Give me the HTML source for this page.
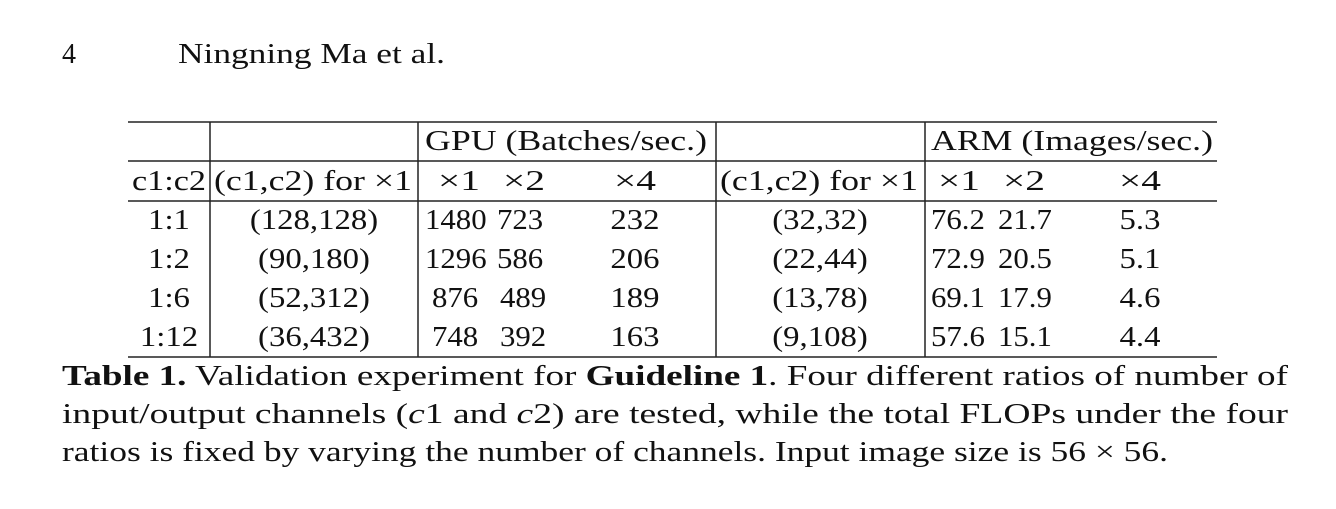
<!DOCTYPE html>
<html><head><meta charset="utf-8"><style>
html,body{margin:0;padding:0;background:#fff}
svg text{font-family:"Liberation Serif",serif;fill:#111;font-size:28px}
</style></head><body>
<svg width="1336" height="504" viewBox="0 0 1336 504">
<text x="62" y="63">4</text>
<text x="178" y="63" textLength="267" lengthAdjust="spacingAndGlyphs">Ningning Ma et al.</text>
<g stroke="#222" stroke-width="1.5">
<line x1="128" y1="122" x2="1217" y2="122"/>
<line x1="128" y1="161" x2="1217" y2="161"/>
<line x1="128" y1="201" x2="1217" y2="201"/>
<line x1="128" y1="357" x2="1217" y2="357"/>
<line x1="210" y1="122" x2="210" y2="357"/>
<line x1="418" y1="122" x2="418" y2="357"/>
<line x1="716" y1="122" x2="716" y2="357"/>
<line x1="925" y1="122" x2="925" y2="357"/>
</g>
<g>
<text x="425" y="150" textLength="282" lengthAdjust="spacingAndGlyphs">GPU (Batches/sec.)</text>
<text x="931" y="150" textLength="282" lengthAdjust="spacingAndGlyphs">ARM (Images/sec.)</text>
<text x="132" y="190" textLength="74" lengthAdjust="spacingAndGlyphs">c1:c2</text>
<text x="214" y="190" textLength="198" lengthAdjust="spacingAndGlyphs">(c1,c2) for ×1</text>
<text x="438" y="190" textLength="42" lengthAdjust="spacingAndGlyphs">×1</text>
<text x="503" y="190" textLength="42" lengthAdjust="spacingAndGlyphs">×2</text>
<text x="614" y="190" textLength="42" lengthAdjust="spacingAndGlyphs">×4</text>
<text x="720" y="190" textLength="198" lengthAdjust="spacingAndGlyphs">(c1,c2) for ×1</text>
<text x="938" y="190" textLength="42" lengthAdjust="spacingAndGlyphs">×1</text>
<text x="1003" y="190" textLength="42" lengthAdjust="spacingAndGlyphs">×2</text>
<text x="1119" y="190" textLength="42" lengthAdjust="spacingAndGlyphs">×4</text>
</g>
<g id="rows"></g>
<g>
<text x="62" y="385" textLength="1226" lengthAdjust="spacingAndGlyphs"><tspan font-weight="bold">Table 1.</tspan> Validation experiment for <tspan font-weight="bold">Guideline 1</tspan>. Four different ratios of number of</text>
<text x="62" y="423" textLength="1226" lengthAdjust="spacingAndGlyphs">input/output channels (<tspan font-style="italic">c</tspan>1 and <tspan font-style="italic">c</tspan>2) are tested, while the total FLOPs under the four</text>
<text x="62" y="461" textLength="1106" lengthAdjust="spacingAndGlyphs">ratios is fixed by varying the number of channels. Input image size is 56 × 56.</text>
</g>
</svg>
<script>
const ratios=["1:1","1:2","1:6","1:12"];
const gpuChannels=["(128,128)","(90,180)","(52,312)","(36,432)"];
const gpuX1=["1480","1296","876","748"];
const gpuX2=["723","586","489","392"];
const gpuX4=["232","206","189","163"];
const armChannels=["(32,32)","(22,44)","(13,78)","(9,108)"];
const armX1=["76.2","72.9","69.1","57.6"];
const armX2=["21.7","20.5","17.9","15.1"];
const armX4=["5.3","5.1","4.6","4.4"];
const g=document.getElementById('rows');
const NS="http://www.w3.org/2000/svg";
function t(x,y,s,anchor,name,k){
  const e=document.createElementNS(NS,'text');
  e.setAttribute('x',x);e.setAttribute('y',y);
  if(anchor)e.setAttribute('text-anchor',anchor);
  
  
  e.textContent=s;g.appendChild(e);
  const w=e.getComputedTextLength();
  e.setAttribute('textLength',(w*(k||1.17)).toFixed(1));
  e.setAttribute('lengthAdjust','spacingAndGlyphs');
}
ratios.forEach((r,i)=>{
  const y=229+i*39;
  t(169,y,r,'middle','ratio-cell');
  t(314,y,gpuChannels[i],'middle','gpu-channels-cell');
  t(gpuX1[i].length>3?425:432,y,gpuX1[i],null,'gpu-x1-cell',1.1);
  t(gpuX1[i].length>3?497:500,y,gpuX2[i],null,'gpu-x2-cell',1.1);
  t(635,y,gpuX4[i],'middle','gpu-x4-cell');
  t(820,y,armChannels[i],'middle','arm-channels-cell');
  t(931,y,armX1[i],null,'arm-x1-cell',1.1);
  t(998,y,armX2[i],null,'arm-x2-cell',1.1);
  t(1140,y,armX4[i],'middle','arm-x4-cell');
});
</script>
</body></html>
